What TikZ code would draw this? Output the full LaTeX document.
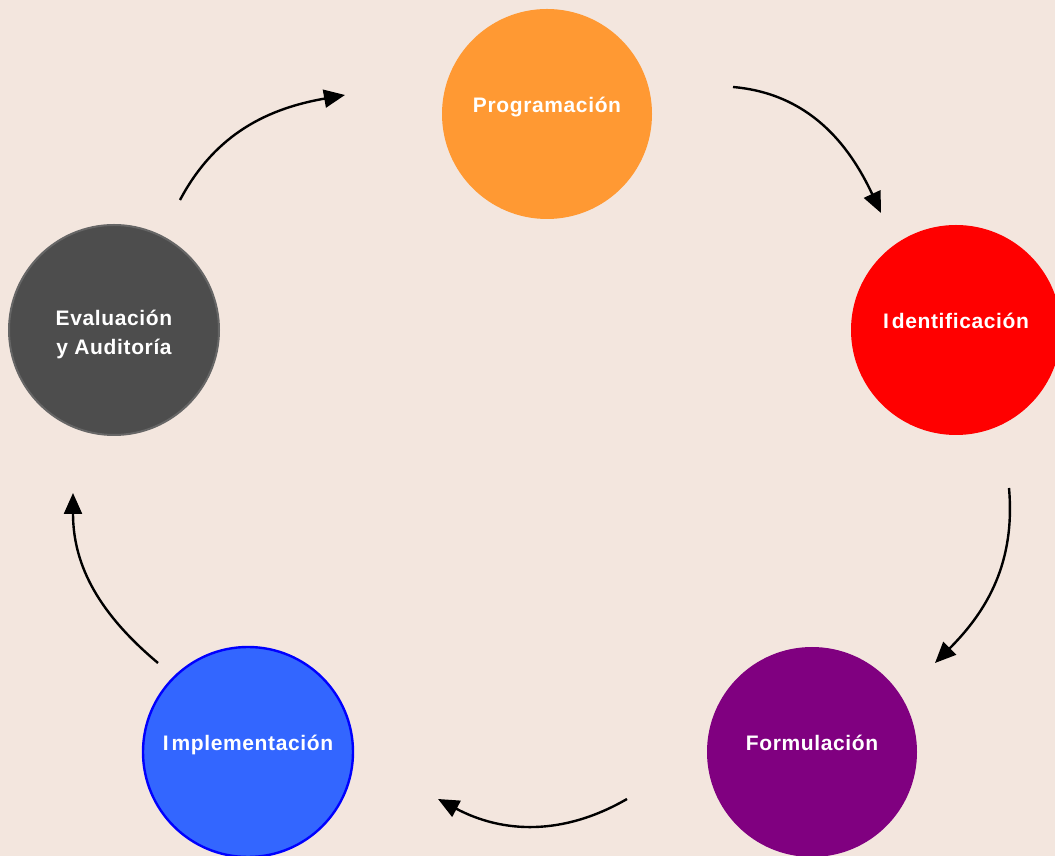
\documentclass[tikz,border=0pt]{standalone}
\usepackage{fontspec}
\newfontfamily\lblfont{Liberation Sans}[LetterSpace=3]
\usetikzlibrary{arrows.meta}

\definecolor{bgcol}{HTML}{F3E6DE}
\definecolor{progcol}{HTML}{FF9933}
\definecolor{identcol}{HTML}{FF0000}
\definecolor{formcol}{HTML}{800080}
\definecolor{implcol}{HTML}{3366FF}
\definecolor{implline}{HTML}{0000FF}
\definecolor{evalcol}{HTML}{4D4D4D}
\definecolor{evalline}{HTML}{666666}

\tikzset{
  stage/.style={circle, minimum size=210pt, inner sep=0pt, draw=none,
    text=white, font=\lblfont\bfseries\fontsize{21}{28}\selectfont,
    text height=1pt, text depth=3pt},
  cyclearrow/.style={line width=2.4pt, black,
    -{Triangle[length=21pt,width=18pt]}}
}

\begin{document}
\begin{tikzpicture}[x=1pt,y=1pt]
  \useasboundingbox (0,0) rectangle (1055,856);
  \fill[bgcol] (0,0) rectangle (1055,856);
  \clip (0,0) rectangle (1055,856);

  % the five stages of the cycle
  \node[stage, fill=progcol]  (prog)  at (547,742) {Programación};
  \node[stage, fill=identcol] (ident) at (956,526) {I\kern3pt dentificación};
  \node[stage, fill=formcol]  (form)  at (812,104) {Formulación};
  \node[stage, fill=implcol, draw=implline, line width=2.4pt]
                              (impl)  at (248,104) {I\kern3pt mplementación};
  \node[stage, fill=evalcol, draw=evalline, line width=2pt, align=center,
        text height=50pt, text depth=0pt]
                              (eval)  at (114,526) {Evaluación\\[1pt]y Auditoría};

  % free ends of the connecting arcs
  \coordinate (a1s) at (180,656);  \coordinate (a1e) at (345,761);
  \coordinate (a2s) at (733,769);  \coordinate (a2e) at (881,643);
  \coordinate (a3s) at (1009,368); \coordinate (a3e) at (935,193);
  \coordinate (a4s) at (627,57);   \coordinate (a4e) at (438,57);
  \coordinate (a5s) at (158,193);  \coordinate (a5e) at (73,363);

  % arcs running clockwise round the cycle
  \draw[cyclearrow] (a1s) to[out=62,in=190] (a1e);
  \draw[cyclearrow] (a2s) to[out=-5,in=115] (a2e);
  \draw[cyclearrow] (a3s) to[out=-85,in=45] (a3e);
  \draw[cyclearrow] (a4s) to[out=210,in=-28] (a4e);
  \draw[cyclearrow] (a5s) to[out=140,in=-90] (a5e);
\end{tikzpicture}
\end{document}
